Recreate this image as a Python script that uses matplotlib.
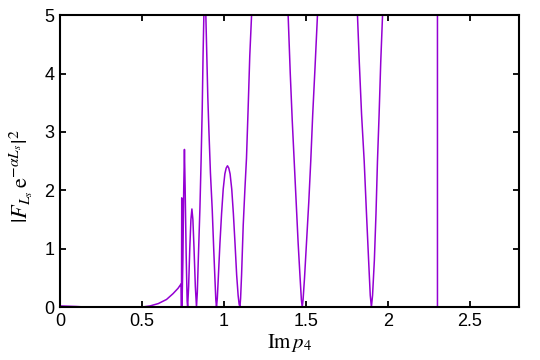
import numpy as np
import matplotlib.pyplot as plt

plt.rcParams['font.family'] = ['Liberation Sans', 'DejaVu Sans']
plt.rcParams['mathtext.fontset'] = 'stix'

# curve (Im p4, |F e^{-aL}|^2); values above 5 are clipped
im_p4 = [
    0.0, 0.05, 0.10, 0.16, 0.50, 0.55, 0.60, 0.65, 0.69, 0.72, 0.740,
    0.7415, 0.743, 0.7445, 0.750, 0.755, 0.7595, 0.764, 0.770, 0.776, 0.779,
    0.785, 0.792, 0.799, 0.805, 0.811, 0.818, 0.826, 0.833,
    0.838, 0.845, 0.854, 0.861, 0.868, 0.873, 0.878, 0.884, 0.890, 0.896,
    0.902, 0.909, 0.918, 0.929, 0.938, 0.946, 0.951, 0.955,
    0.960, 0.966, 0.976, 0.986, 0.996, 1.006, 1.014, 1.022, 1.030, 1.038,
    1.048, 1.058, 1.068, 1.078, 1.087, 1.093, 1.098,
    1.102, 1.108, 1.118, 1.128, 1.138, 1.148, 1.158, 1.169, 1.28, 1.392,
    1.405, 1.417, 1.429, 1.441, 1.453, 1.465, 1.473, 1.478,
    1.483, 1.492, 1.506, 1.518, 1.530, 1.542, 1.556, 1.571, 1.69, 1.815,
    1.826, 1.840, 1.856, 1.870, 1.883, 1.893, 1.900,
    1.907, 1.918, 1.928, 1.937, 1.947, 1.957, 1.968, 2.10, 2.3025, 2.303,
]
f_sq = [
    0.02, 0.015, 0.01, 0.0, 0.0, 0.02, 0.06, 0.13, 0.23, 0.32, 0.40,
    0.0, 1.87, 0.0, 0.8, 2.0, 2.70, 2.0, 0.9, 0.1, 0.0,
    0.35, 1.0, 1.5, 1.68, 1.5, 1.0, 0.35, 0.0,
    0.25, 0.9, 1.7, 2.5, 3.4, 4.3, 5.0, 5.3, 5.0, 4.3,
    3.6, 3.0, 2.3, 1.67, 1.0, 0.45, 0.12, 0.0,
    0.15, 0.5, 1.09, 1.6, 2.02, 2.28, 2.38, 2.42, 2.38, 2.28,
    2.02, 1.6, 1.09, 0.55, 0.2, 0.05, 0.0,
    0.15, 0.55, 1.4, 2.0, 2.55, 3.4, 4.3, 5.0, 14.0, 5.0,
    4.0, 3.2, 2.5, 1.8, 1.1, 0.5, 0.12, 0.0,
    0.12, 0.5, 1.2, 1.8, 2.5, 3.3, 4.1, 5.0, 16.0, 5.0,
    4.2, 3.3, 2.5, 1.6, 0.8, 0.2, 0.0,
    0.2, 0.8, 1.6, 2.5, 3.3, 4.2, 5.0, 20.0, 30.0, 0.0,
]

x_ticks = [0, 0.5, 1, 1.5, 2, 2.5]
x_tick_labels = ['0', '0.5', '1', '1.5', '2', '2.5']
y_ticks = [0, 1, 2, 3, 4, 5]

fig = plt.figure(figsize=(5.4, 3.6), dpi=100)
ax = fig.add_axes([0.111, 0.147, 0.850, 0.811])

ax.plot(im_p4, f_sq, color='#9400D3', lw=1.1)

ax.set_xlim(0, 2.8)
ax.set_ylim(0, 5)
ax.set_xticks(x_ticks)
ax.set_xticklabels(x_tick_labels)
ax.set_yticks(y_ticks)
ax.tick_params(direction='in', top=True, right=True, length=4, width=1.3,
               labelsize=13, pad=4)
for s in ax.spines.values():
    s.set_linewidth(1.5)

ax.set_xlabel(r'$\mathrm{Im}\,p_4$', fontsize=15, labelpad=2)
ax.set_ylabel(r'$|F_{L_s}\,\mathrm{e}^{-\alpha L_s}|^2$', fontsize=16)
ax.yaxis.set_label_coords(-0.055, 0.45)

plt.savefig('out.png', dpi=100)
